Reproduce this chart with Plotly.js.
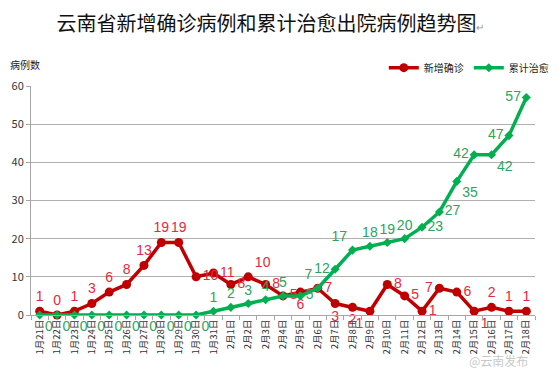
<!DOCTYPE html>
<html><head><meta charset="utf-8">
<script src="https://cdn.plot.ly/plotly-3.0.1.min.js"></script>
<style>html,body{margin:0;padding:0;background:#fff;}#c{width:559px;height:376px;}</style>
</head><body><div id="c"></div>
<script>
const dates = ["1月21日","1月22日","1月23日","1月24日","1月25日","1月26日","1月27日","1月28日","1月29日","1月30日","1月31日",
"2月1日","2月2日","2月3日","2月4日","2月5日","2月6日","2月7日","2月8日","2月9日","2月10日","2月11日","2月12日","2月13日","2月14日","2月15日","2月16日","2月17日","2月18日"];
const newConfirmed = [1,0,1,3,6,8,13,19,19,10,11,8,10,8,5,6,7,3,2,1,8,5,1,7,6,1,2,1,1];
const curedTotal = [0,0,0,0,0,0,0,0,0,0,1,2,3,4,5,5,7,12,17,18,19,20,23,27,35,42,42,47,57];

const redPos = ["top center","top center","top center","top center","top center","top center","top center","top center","top center",
"middle right","middle right","middle right","top right","middle right","middle right","bottom center","middle right",
"bottom center","bottom center","bottom left","middle right","middle right","middle right","middle left","middle right","bottom right",
"top center","top center","top center"];
const greenPos = ["bottom right","bottom right","bottom right","bottom right","bottom right","bottom right","bottom right","bottom right","bottom right","bottom right",
"top center","top center","top center","top center","top center","middle right","top left","middle left","top left",
"top center","top center","top center","middle right","middle right","bottom right","middle left","bottom right","middle left","middle left"];

const red = {
  x: dates, y: newConfirmed, name: "新增确诊", type: "scatter", mode: "lines+markers+text",
  line: {color: "#C00000", width: 3.5},
  marker: {color: "#C00000", size: 9, symbol: "circle"},
  text: newConfirmed.map(String), textposition: redPos,
  textfont: {color: "#E8283C", size: 14, family: "Liberation Sans, Arial, sans-serif"},
  cliponaxis: false
};
const green = {
  x: dates, y: curedTotal, name: "累计治愈", type: "scatter", mode: "lines+markers+text",
  line: {color: "#00B050", width: 3.5},
  marker: {color: "#00B050", size: 7, symbol: "diamond"},
  text: curedTotal.map(String), textposition: greenPos,
  textfont: {color: "#2AA55E", size: 14, family: "Liberation Sans, Arial, sans-serif"},
  cliponaxis: false
};

const layout = {
  width: 559, height: 376,
  margin: {l: 31, r: 5, t: 86, b: 61},
  paper_bgcolor: "#fff", plot_bgcolor: "#fff",
  font: {family: "Noto Sans CJK SC, sans-serif", color: "#333"},
  title: {text: "云南省新增确诊病例和累计治愈出院病例趋势图<span style='font-size:10px;color:#999'>↵</span>",
    font: {size: 20, color: "#111", family: "Noto Sans CJK SC, sans-serif"},
    x: 0.475, xanchor: "center", y: 0.935, yanchor: "middle", xref: "paper"},
  xaxis: {
    type: "category", range: [-0.5, 28.5], tickangle: -90,
    tickfont: {size: 9.5, color: "#333"},
    showgrid: false, zeroline: false,
    showline: true, linecolor: "#A6A6A6", linewidth: 1,
    ticks: "outside", ticklen: 4, tickcolor: "#A6A6A6", tickson: "boundaries"
  },
  yaxis: {
    range: [0, 60], dtick: 10, tickfont: {size: 11, color: "#333"},
    showgrid: true, gridcolor: "#B0B0B0", gridwidth: 1, zeroline: false,
    showline: true, linecolor: "#A6A6A6", linewidth: 1,
    ticks: "outside", ticklen: 4, tickcolor: "#A6A6A6"
  },
  showlegend: true,
  legend: {orientation: "h", x: 0.7, xanchor: "left", y: 1.08, yanchor: "middle",
    font: {size: 10, color: "#222"}, bgcolor: "rgba(0,0,0,0)", itemwidth: 30},
  annotations: [
    {text: "病例数", xref: "paper", yref: "paper", x: -0.045, y: 1.095, xanchor: "left", yanchor: "middle",
     showarrow: false, font: {size: 10, color: "#222"}},
    {text: "@云南发布", xref: "paper", yref: "paper", x: 0.99, y: -0.2, xanchor: "right", yanchor: "middle",
     showarrow: false, font: {size: 12, color: "rgba(150,150,150,0.55)"}}
  ]
};
Plotly.newPlot("c", [red, green], layout, {displayModeBar: false, staticPlot: true});
</script></body></html>
